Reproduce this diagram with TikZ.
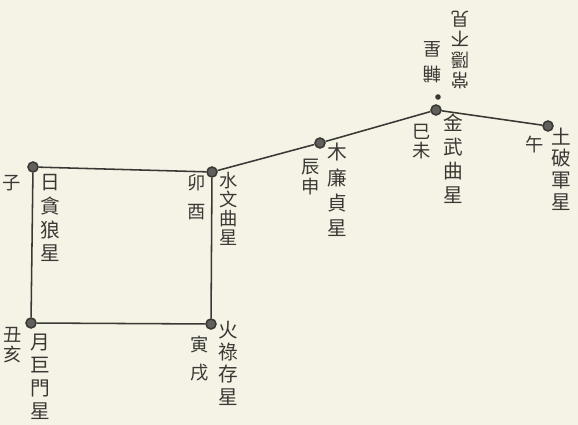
\documentclass[tikz,border=0pt]{standalone}
\usepackage{fontspec}
\newfontfamily\cjk{Noto Sans CJK TC}
\usepackage{tikz}
\usetikzlibrary{arrows}
\definecolor{paper}{RGB}{245,243,229}
\definecolor{ink}{RGB}{58,56,52}

\begin{document}
\begin{tikzpicture}[x=0.025cm, y=-0.025cm]
			\tikzstyle{xing} = [draw=ink, fill=ink!80, circle, minimum size=2.5mm, inner sep=0pt]
			\tikzstyle{fu} = [fill=ink, circle, minimum size=1.4mm, inner sep=0pt]
			\tikzstyle{xingming} = [text=ink, align=center, inner sep=0pt, font=\cjk\fontsize{14}{17}\selectfont]
			\tikzstyle{zhi} = [text=ink, align=center, inner sep=0pt, font=\cjk\fontsize{13}{14}\selectfont]

			\path[fill=paper, use as bounding box] (0,0) rectangle (578,425);

			\begin{scope}
			\path[draw=ink, line width=1.1pt]

			node[xing] (ri) at (33,167) {}
			node[xing] (yue) at (31,323) {}
			node[xing] (shui) at (212,172) {}
			node[xing] (huo) at (211,324) {}
			node[xing] (mu) at (320,143) {}
			node[xing] (jin) at (436,110) {}
			node[xing] (tu) at (548,126) {}
			node[fu] (fuxing) at (438,97) {}

			(ri) edge (shui)
			(ri) edge (yue)
			(yue) edge (huo)
			(shui) edge (huo)
			(shui) edge (mu)
			(mu) edge (jin)
			(jin) edge (tu)
			;
			\end{scope}

			\begin{scope}
			\path
			node[xingming] (riname) at (50,218) {日\\貪\\狼\\星}
			node[xingming, font=\cjk\fontsize{14}{16.4}\selectfont] (yuename) at (40,377) {月\\巨\\門\\星}
			node[xingming, font=\cjk\fontsize{13}{13.4}\selectfont] (shuiname) at (229,209) {水\\文\\曲\\星}
			node[xingming, font=\cjk\fontsize{14}{15.9}\selectfont] (huoname) at (228,363) {火\\祿\\存\\星}
			node[xingming, font=\cjk\fontsize{14}{18}\selectfont] (muname) at (337,190) {木\\廉\\貞\\星}
			node[xingming] (jinname) at (453,159) {金\\武\\曲\\星}
			node[xingming, font=\cjk\fontsize{14}{15.4}\selectfont] (tuname) at (561,169) {土\\破\\軍\\星}

			node[zhi] (zi) at (12,183) {子}
			node[zhi] (chouhai) at (13,345) {丑\\亥}
			node[zhi, font=\cjk\fontsize{13}{20.6}\selectfont] (maoyou) at (197,197) {卯\\酉}
			node[zhi, font=\cjk\fontsize{13}{20}\selectfont] (yinxu) at (200,359) {寅\\戌}
			node[zhi] (chenshen) at (311,177) {辰\\申}
			node[zhi, font=\cjk\fontsize{13}{13.5}\selectfont] (siwei) at (422,142) {巳\\未}
			node[zhi] (wu) at (535,145) {午}

			node[xingming, rotate=180, font=\cjk\fontsize{13}{18}\selectfont] (funame) at (432,62) {輔\\星}
			node[xingming, rotate=180, font=\cjk\fontsize{13}{14.5}\selectfont] (yinname) at (460,50) {常\\隱\\不\\見}
			;
			\end{scope}

			\end{tikzpicture}
\end{document}
